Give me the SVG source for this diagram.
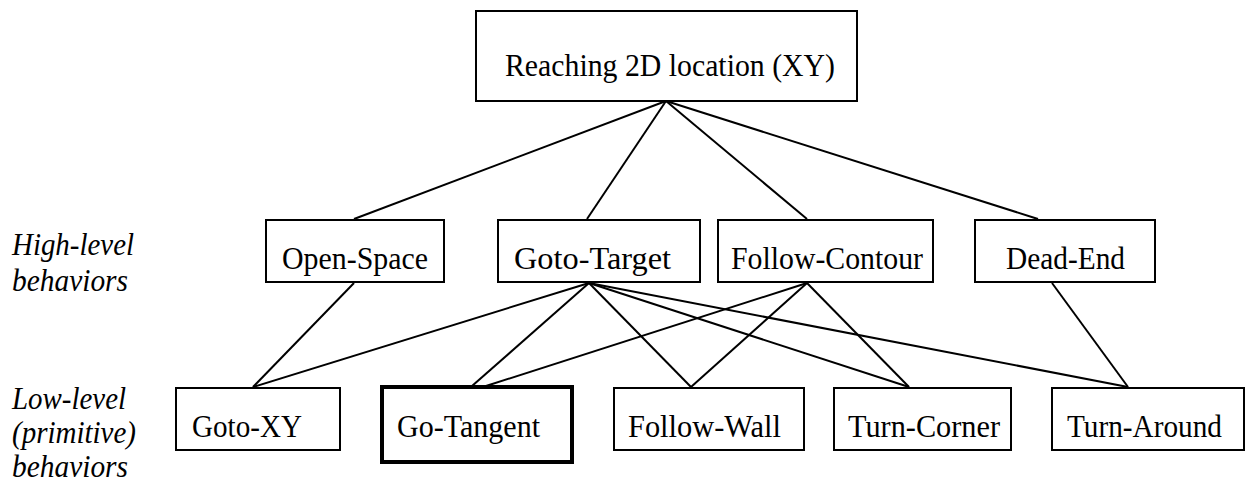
<svg xmlns="http://www.w3.org/2000/svg" width="1251" height="491" viewBox="0 0 1251 491">
<style>
rect{fill:#fff;stroke:#000;stroke-width:2}
rect.thick{stroke-width:4}
text{font-family:"Liberation Serif","Times New Roman",serif;font-size:32px;fill:#000}
text.lab{font-style:italic}
#connectors line{stroke:#000;stroke-width:2}
</style>
<g id="labels">
<text class="lab" x="12" y="255" textLength="122" lengthAdjust="spacingAndGlyphs">High-level</text>
<text class="lab" x="12" y="291" textLength="116" lengthAdjust="spacingAndGlyphs">behaviors</text>
<text class="lab" x="12" y="409" textLength="114" lengthAdjust="spacingAndGlyphs">Low-level</text>
<text class="lab" x="12" y="443" textLength="124" lengthAdjust="spacingAndGlyphs">(primitive)</text>
<text class="lab" x="12" y="477" textLength="116" lengthAdjust="spacingAndGlyphs">behaviors</text>
</g>
<g id="connectors">
<line x1="666" y1="101" x2="354" y2="219"/>
<line x1="666" y1="101" x2="587" y2="219"/>
<line x1="666" y1="101" x2="807" y2="219"/>
<line x1="666" y1="101" x2="1038" y2="219"/>
<line x1="354" y1="283" x2="253" y2="387"/>
<line x1="589" y1="283" x2="253" y2="387"/>
<line x1="589" y1="283" x2="472" y2="386"/>
<line x1="589" y1="283" x2="691" y2="387"/>
<line x1="589" y1="283" x2="909" y2="387"/>
<line x1="589" y1="283" x2="1128" y2="387"/>
<line x1="807" y1="283" x2="486" y2="386"/>
<line x1="807" y1="283" x2="691" y2="387"/>
<line x1="807" y1="283" x2="909" y2="387"/>
<line x1="1052" y1="283" x2="1128" y2="387"/>
</g>
<g id="reaching-2d">
<rect x="476" y="11" width="381" height="90"/>
<text x="505" y="76" textLength="330" lengthAdjust="spacingAndGlyphs">Reaching 2D location (XY)</text>
</g>
<g id="open-space">
<rect x="266" y="220" width="178" height="62"/>
<text x="282" y="269" textLength="146" lengthAdjust="spacingAndGlyphs">Open-Space</text>
</g>
<g id="goto-target">
<rect x="498" y="220" width="202" height="62"/>
<text x="514" y="269" textLength="157" lengthAdjust="spacingAndGlyphs">Goto-Target</text>
</g>
<g id="follow-contour">
<rect x="718" y="220" width="215" height="62"/>
<text x="731" y="269" textLength="192" lengthAdjust="spacingAndGlyphs">Follow-Contour</text>
</g>
<g id="dead-end">
<rect x="975" y="220" width="180" height="62"/>
<text x="1006" y="269" textLength="119" lengthAdjust="spacingAndGlyphs">Dead-End</text>
</g>
<g id="goto-xy">
<rect x="176" y="388" width="164" height="62"/>
<text x="192" y="437" textLength="110" lengthAdjust="spacingAndGlyphs">Goto-XY</text>
</g>
<g id="go-tangent">
<rect class="thick" x="382" y="387" width="190" height="75"/>
<text x="397" y="437" textLength="143" lengthAdjust="spacingAndGlyphs">Go-Tangent</text>
</g>
<g id="follow-wall">
<rect x="614" y="388" width="190" height="62"/>
<text x="628" y="437" textLength="153" lengthAdjust="spacingAndGlyphs">Follow-Wall</text>
</g>
<g id="turn-corner">
<rect x="834" y="388" width="177" height="62"/>
<text x="848" y="437" textLength="152" lengthAdjust="spacingAndGlyphs">Turn-Corner</text>
</g>
<g id="turn-around">
<rect x="1052" y="388" width="192" height="62"/>
<text x="1067" y="437" textLength="155" lengthAdjust="spacingAndGlyphs">Turn-Around</text>
</g>
</svg>
